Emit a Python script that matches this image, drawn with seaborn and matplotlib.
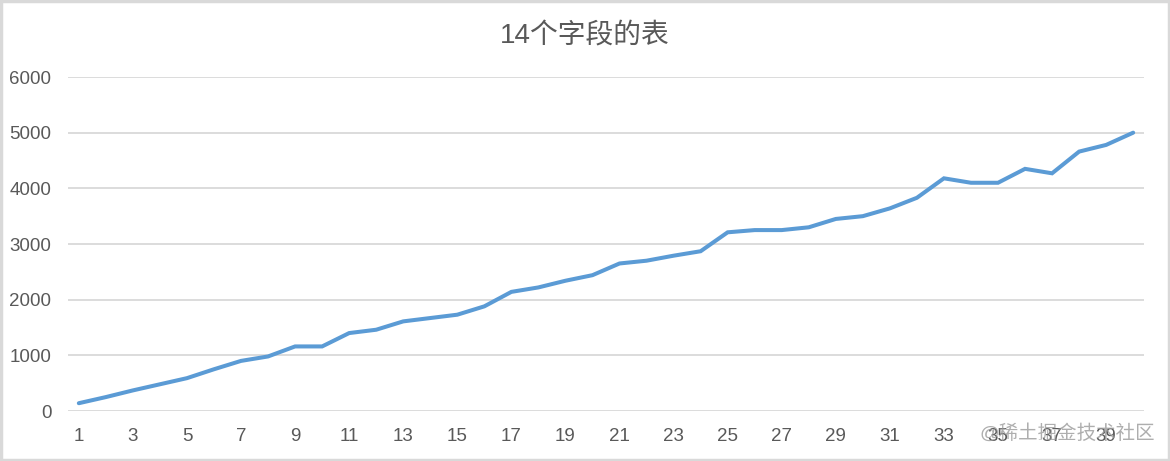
import matplotlib
matplotlib.use("Agg")
import matplotlib.pyplot as plt
from matplotlib.patches import Rectangle
import seaborn as sns
import pandas as pd

# field index (1..40) and value
fields = list(range(1, 41))
values = [140, 250, 370, 480, 590, 750, 900, 980, 1160, 1160,
          1400, 1460, 1610, 1670, 1730, 1880, 2140, 2220, 2340, 2440,
          2650, 2700, 2790, 2870, 3210, 3250, 3250, 3300, 3450, 3500,
          3640, 3830, 4180, 4100, 4100, 4350, 4270, 4660, 4780, 5000]
y_ticks = [0, 1000, 2000, 3000, 4000, 5000, 6000]
x_tick_labels = [str(i) for i in range(1, 41, 2)]

title = "14个字段的表"
watermark = "@稀土掘金技术社区"

sns.set_theme(style="white")
plt.rcParams['font.family'] = ['Liberation Sans', 'Noto Sans CJK SC', 'DejaVu Sans']

df = pd.DataFrame({"field": fields, "value": values})

fig = plt.figure(figsize=(11.7, 4.61), dpi=100)
ax = fig.add_axes([68 / 1170, 50 / 461, (1144 - 68) / 1170, (411 - 77) / 461])

sns.lineplot(data=df, x="field", y="value", ax=ax, color="#5B9BD5", linewidth=2.9,
             solid_joinstyle="miter")

ax.set_xlim(0.6, 40.4)
ax.set_ylim(0, 6000)
ax.set_yticks(y_ticks)
ax.set_xticks(range(1, 41, 2))
ax.set_xticklabels(x_tick_labels)
ax.yaxis.grid(True, color="#D9D9D9", linewidth=1.3)
ax.set_axisbelow(True)
for s in ax.spines.values():
    s.set_visible(False)
ax.tick_params(axis="both", length=0, labelsize=13.5, colors="#595959")
ax.tick_params(axis="y", pad=12)
ax.tick_params(axis="x", pad=12)
ax.set_xlabel("")
ax.set_ylabel("")

fig.text(0.5, 1 - 36 / 461, title, ha="center", va="center", fontsize=20, color="#595959")
fig.text(1155 / 1170, 1 - 433 / 461, watermark, ha="right", va="center", fontsize=14,
         color="#9A9A9A", alpha=0.8)

fig.patches.append(Rectangle((0.001, 0.002), 0.998, 0.996, transform=fig.transFigure,
                             fill=False, edgecolor="#D9D9D9", linewidth=2.5))

fig.savefig("out.png", dpi=100)
